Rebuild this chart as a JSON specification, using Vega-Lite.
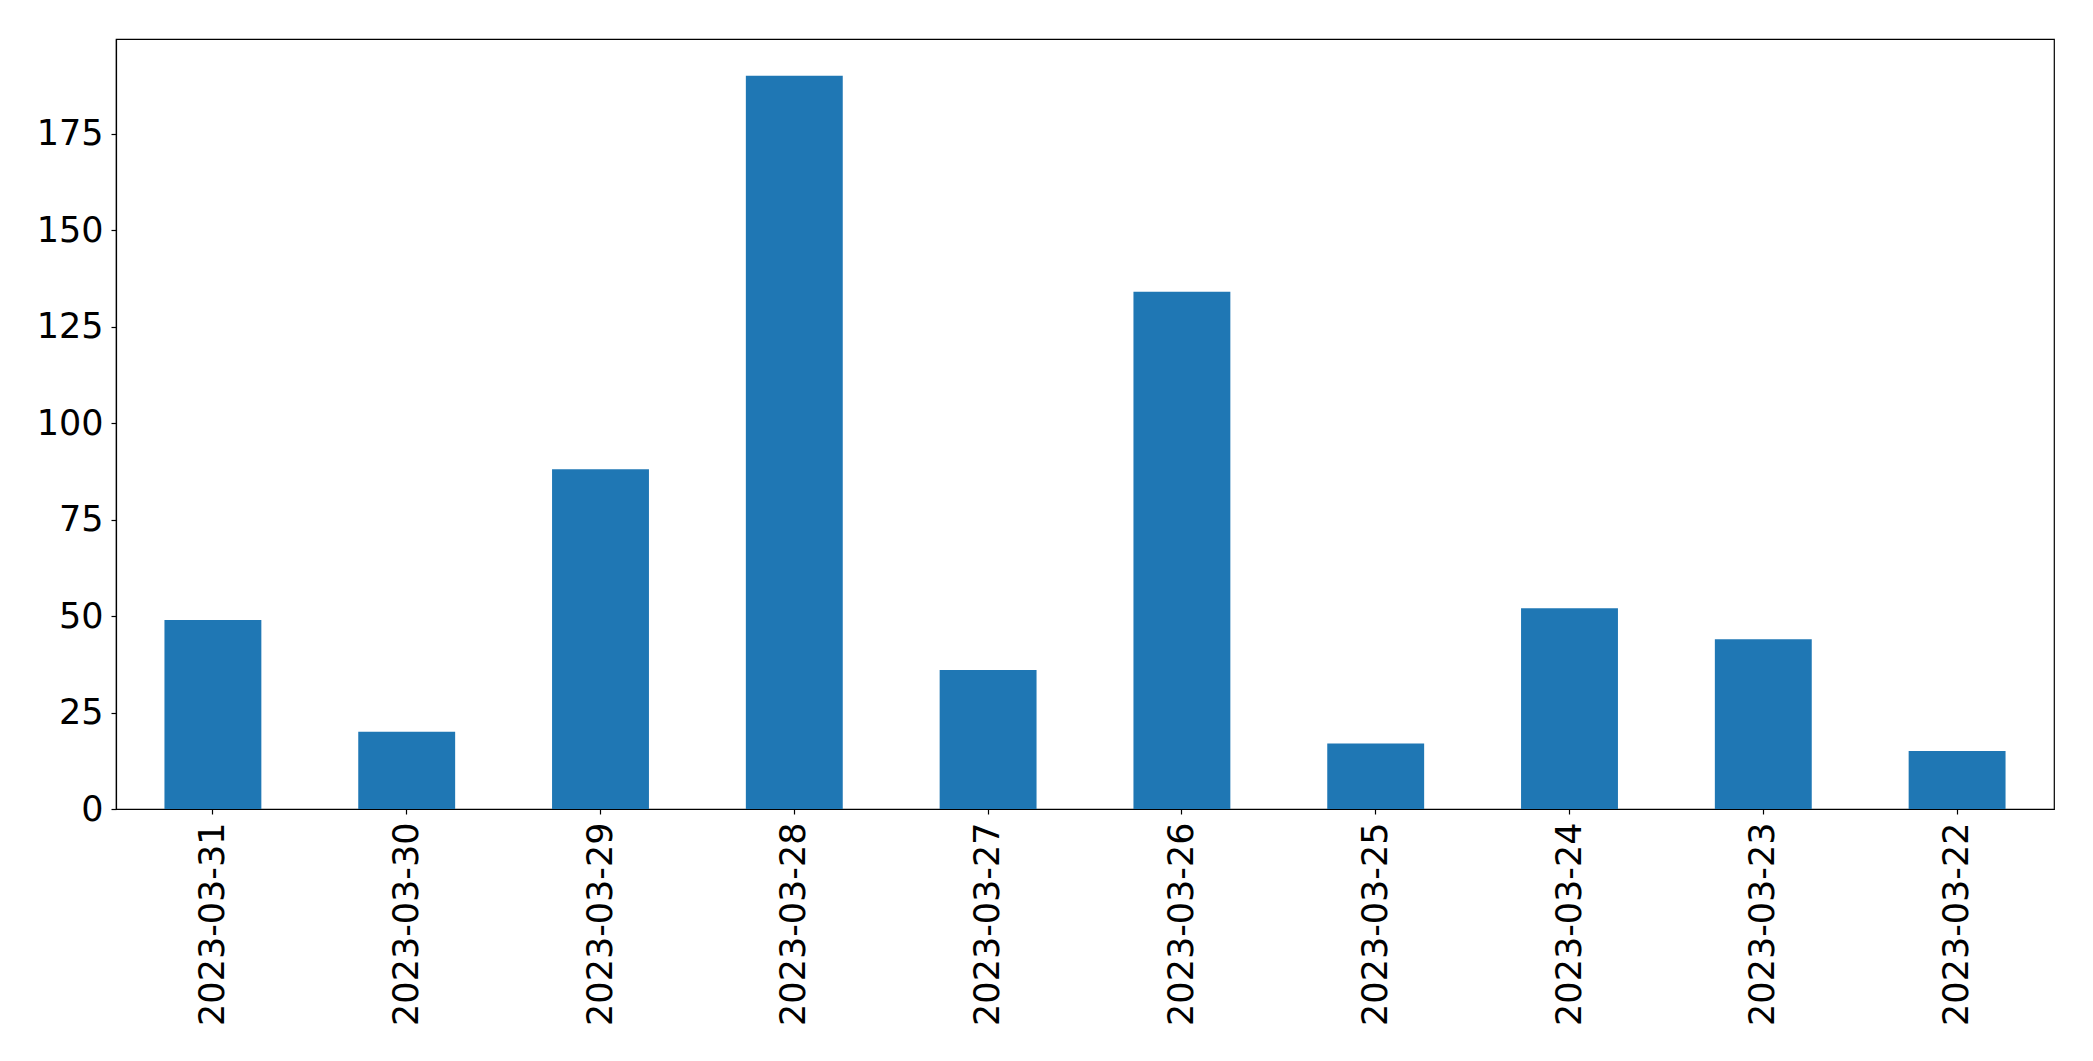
{
  "$schema": "https://vega.github.io/schema/vega-lite/v6.json",
  "autosize": "none",
  "width": 1938,
  "height": 770,
  "padding": {"left": 116, "top": 39, "right": 39, "bottom": 252},
  "background": "white",
  "config": {
    "font": "DejaVu Sans",
    "view": {"stroke": "black", "strokeWidth": 1.2},
    "axis": {
      "labelFont": "DejaVu Sans",
      "labelFontSize": 35,
      "labelColor": "black",
      "labelLimit": 0,
      "domainColor": "black",
      "tickColor": "black",
      "tickSize": 5,
      "tickWidth": 1.2,
      "domainWidth": 1.2,
      "grid": false,
      "title": null
    }
  },
  "data": {
    "values": [
      {"date": "2023-03-31", "count": 49},
      {"date": "2023-03-30", "count": 20},
      {"date": "2023-03-29", "count": 88},
      {"date": "2023-03-28", "count": 190},
      {"date": "2023-03-27", "count": 36},
      {"date": "2023-03-26", "count": 134},
      {"date": "2023-03-25", "count": 17},
      {"date": "2023-03-24", "count": 52},
      {"date": "2023-03-23", "count": 44},
      {"date": "2023-03-22", "count": 15}
    ]
  },
  "mark": {"type": "bar", "color": "#1f77b4"},
  "encoding": {
    "x": {
      "field": "date",
      "type": "nominal",
      "sort": null,
      "scale": {"paddingInner": 0.5, "paddingOuter": 0.25},
      "axis": {"labelAngle": -90, "labelAlign": "right", "labelBaseline": "middle", "labelPadding": 8}
    },
    "y": {
      "field": "count",
      "type": "quantitative",
      "scale": {"domain": [0, 199.5], "nice": false},
      "axis": {"values": [0, 25, 50, 75, 100, 125, 150, 175], "labelPadding": 8}
    }
  }
}
